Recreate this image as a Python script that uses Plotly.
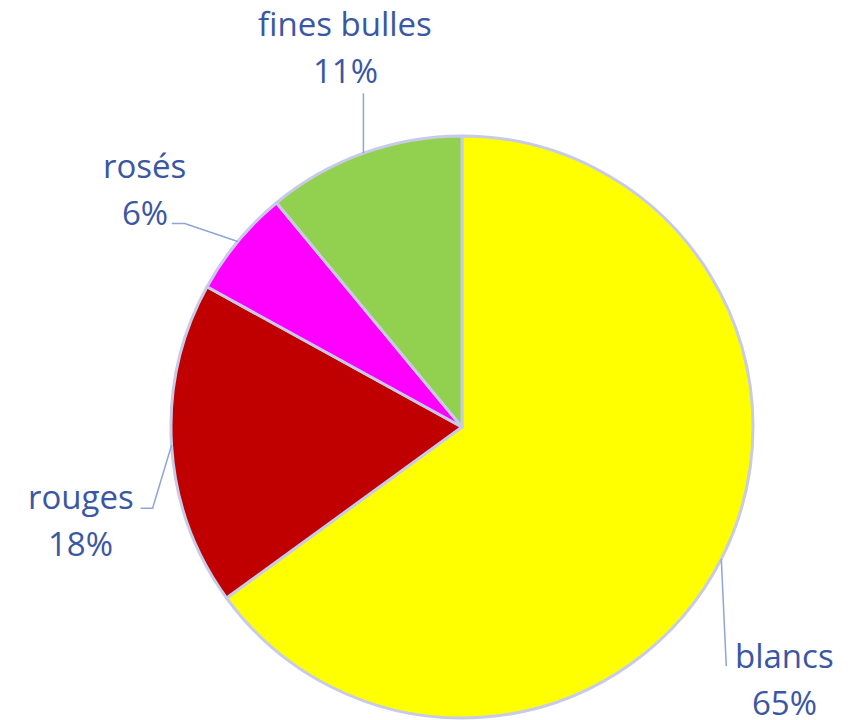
import numpy as np
import plotly.graph_objects as go

# --- data ---
labels = ["blancs", "rouges", "rosés", "fines bulles"]
values = [65, 18, 6, 11]
colors = ["#FFFF00", "#C00000", "#FF00FF", "#92D050"]

# --- page geometry (px, in window coordinates) ---
W, H = 863, 720
OFF = 8  # default page body margin
cx, cy, R = 462, 427, 291
text_color = "#3B57A3"
line_color = "#8FA5D9"
font = "Open Sans"

# leader line bends / label placement, relative to the slice edge midpoint (px)
leader_pts = {
    "blancs": [(5, 107)],
    "rouges": [(-19, 63), (-31, 63)],
    "rosés": [(-53, -18), (-66, -18)],
    "fines bulles": [(0, -60)],
}
label_off = {
    "blancs": (63, 96),
    "rouges": (-91, 51),
    "rosés": (-93, -76),
    "fines bulles": (-18, -130),
}
pct_gap = 47


def px(x):
    return (x - OFF) / W


def py(y):
    return 1 - (y - OFF) / H


fig = go.Figure()
fig.add_trace(go.Pie(
    labels=labels, values=values, sort=False, direction="clockwise", rotation=0,
    marker=dict(colors=colors, line=dict(color="#C8CBE8", width=3)),
    textinfo="none", showlegend=False,
    domain=dict(x=[px(cx - R), px(cx + R)], y=[py(cy + R), py(cy - R)]),
))

total = sum(values)
cum = 0
for lab, v in zip(labels, values):
    mid = (cum + v / 2) / total
    cum += v
    th = 2 * np.pi * mid
    ex, ey = cx + R * np.sin(th), cy - R * np.cos(th)
    pts = [(ex, ey)] + [(ex + dx, ey + dy) for dx, dy in leader_pts[lab]]
    path = "M " + " L ".join(f"{px(x):.5f},{py(y):.5f}" for x, y in pts)
    fig.add_shape(type="path", path=path, xref="paper", yref="paper",
                  line=dict(color=line_color, width=1.5))
    lx, ly = ex + label_off[lab][0], ey + label_off[lab][1]
    pct = f"{round(100 * v / total)}%"
    for txt, yy in [(lab, ly), (pct, ly + pct_gap)]:
        fig.add_annotation(x=px(lx), y=py(yy), xref="paper", yref="paper",
                           text=txt, showarrow=False, xanchor="center", yanchor="middle",
                           font=dict(family=font, size=33, color=text_color))

fig.update_layout(
    width=W, height=H, margin=dict(l=0, r=0, t=0, b=0),
    paper_bgcolor="white", plot_bgcolor="white",
)
fig.write_html("out.html")
